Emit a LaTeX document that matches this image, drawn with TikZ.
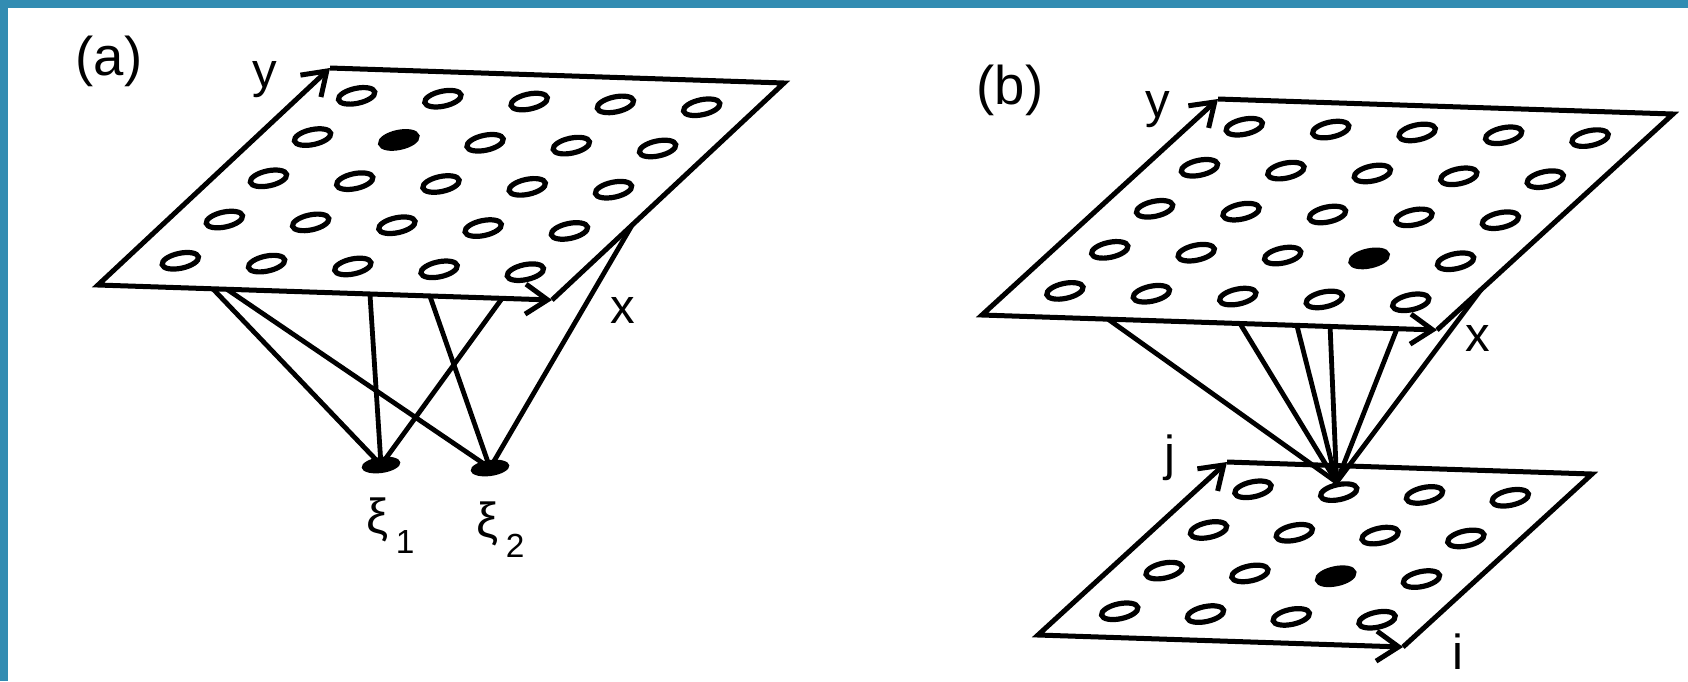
\documentclass[tikz,border=0pt]{standalone}
\usepackage{fontspec}
\setmainfont{Liberation Sans}
\usepackage{tikz}
\usetikzlibrary{arrows.meta,calc,shapes.geometric}
\definecolor{frameblue}{RGB}{50,140,178}
\tikzset{
  sheet/.style={line width=0.05cm, line join=miter},
  axissheet/.style={sheet, {Straight Barb[length=0.22cm,width=0.3cm]}-{Straight Barb[length=0.22cm,width=0.3cm]}},
  unit/.style={draw, ellipse, line width=0.052cm, minimum width=0.37cm, minimum height=0.15cm, inner sep=0pt, rotate=12},
  dotunit/.style={ellipse, fill=black, minimum width=0.39cm, minimum height=0.16cm, inner sep=0pt, rotate=8},
  link/.style={line width=0.048cm},
  axislabel/.style={inner sep=0pt, font=\fontsize{14}{16}\selectfont},
  panellabel/.style={inner sep=0pt, font=\fontsize{15.5}{18}\selectfont}
}
\newcommand{\xisub}[1]{ξ\kern2pt\raisebox{-5.8pt}{\fontsize{9.5}{10}\selectfont #1}}

\begin{document}
\begin{tikzpicture}[x=0.01cm, y=-0.01cm]
  \useasboundingbox (0,0) rectangle (1688,681);
  \fill[frameblue] (0,0) rectangle (1688,8);
  \fill[frameblue] (0,0) rectangle (8,681);

  % (a) one input sheet, two output units
  \node[panellabel] (lab-a) at (109,61) {(a)};
  \coordinate (aO) at (98,285);
  \coordinate (aX) at (552,300);
  \coordinate (aY) at (330,68);
  \coordinate (aC) at (784,83);
  \coordinate (ax) at ($(aX)-(aO)$);
  \coordinate (ay) at ($(aY)-(aO)$);
  \draw[axissheet] (aY) -- (aO) -- (aX);
  \draw[sheet] (aY) -- (aC) -- (aX);
  \foreach \u [count=\i] in {0.12,0.31,0.5,0.69,0.88}
    \foreach \v [count=\j] in {0.12,0.31,0.5,0.69,0.88} {
      \ifnum\i\j=24 \tikzset{unitfill/.style={fill=black}}\else\tikzset{unitfill/.style={}}\fi
      \node[unit, unitfill] (a-\i-\j) at ($(aO)+\u*(ax)+\v*(ay)$) {};
    }
  \node[axislabel] (a-ylab) at (265,80) {y};
  \node[axislabel] (a-xlab) at (623,310) {x};

  \node[dotunit] (xi1) at (381,465) {};
  \node[dotunit] (xi2) at (490,468) {};
  \node[axislabel, anchor=base west] (xi1-lab) at (366,533) {\xisub{1}};
  \node[axislabel, anchor=base west] (xi2-lab) at (476,537) {\xisub{2}};

  \foreach \f [count=\k] in {0.253,0.284,0.599,0.731,0.890}
    \coordinate (a-s\k) at ($(aO)!\f!(aX)$);
  \coordinate (a-s6) at ($(aX)!0.345!(aC)$);
  \foreach \s/\t in {1/xi1,2/xi2,3/xi1,4/xi2,5/xi1,6/xi2}
    \draw[link] (a-s\s) -- (\t.center);

  % (b) input sheet mapped onto the output sheet
  \node[panellabel] (lab-b) at (1010,90) {(b)};
  \coordinate (bO) at (982,315);
  \coordinate (bX) at (1437,330);
  \coordinate (bY) at (1218,99);
  \coordinate (bC) at (1673,114);
  \coordinate (bx) at ($(bX)-(bO)$);
  \coordinate (by) at ($(bY)-(bO)$);
  \draw[axissheet] (bY) -- (bO) -- (bX);
  \draw[sheet] (bY) -- (bC) -- (bX);
  \foreach \u [count=\i] in {0.12,0.31,0.5,0.69,0.88}
    \foreach \v [count=\j] in {0.12,0.31,0.5,0.69,0.88} {
      \ifnum\i\j=42 \tikzset{unitfill/.style={fill=black}}\else\tikzset{unitfill/.style={}}\fi
      \node[unit, unitfill] (b-\i-\j) at ($(bO)+\u*(bx)+\v*(by)$) {};
    }
  \node[axislabel] (b-ylab) at (1158,110) {y};
  \node[axislabel] (b-xlab) at (1478,338) {x};

  \coordinate (cO) at (1038,635);
  \coordinate (cX) at (1403,647);
  \coordinate (cY) at (1227,462);
  \coordinate (cC) at (1592,474);
  \coordinate (cx) at ($(cX)-(cO)$);
  \coordinate (cy) at ($(cY)-(cO)$);
  \draw[axissheet] (cY) -- (cO) -- (cX);
  \draw[sheet] (cY) -- (cC) -- (cX);
  \foreach \u [count=\i] in {0.1475,0.3825,0.6175,0.8525}
    \foreach \v [count=\j] in {0.1475,0.3825,0.6175,0.8525} {
      \ifnum\i\j=32 \tikzset{unitfill/.style={fill=black}}\else\tikzset{unitfill/.style={}}\fi
      \node[unit, unitfill] (c-\i-\j) at ($(cO)+\u*(cx)+\v*(cy)$) {};
    }
  \node[axislabel] (c-jlab) at (1170,458) {j};
  \node[axislabel] (c-ilab) at (1458,652) {i};

  \foreach \f [count=\k] in {0.277,0.567,0.692,0.765,0.912}
    \coordinate (b-s\k) at ($(bO)!\f!(bX)$);
  \coordinate (b-s6) at ($(bX)!0.186!(bC)$);
  \foreach \s in {1,...,6}
    \draw[link] (b-s\s) -- (c-2-4.north);
\end{tikzpicture}
\end{document}
